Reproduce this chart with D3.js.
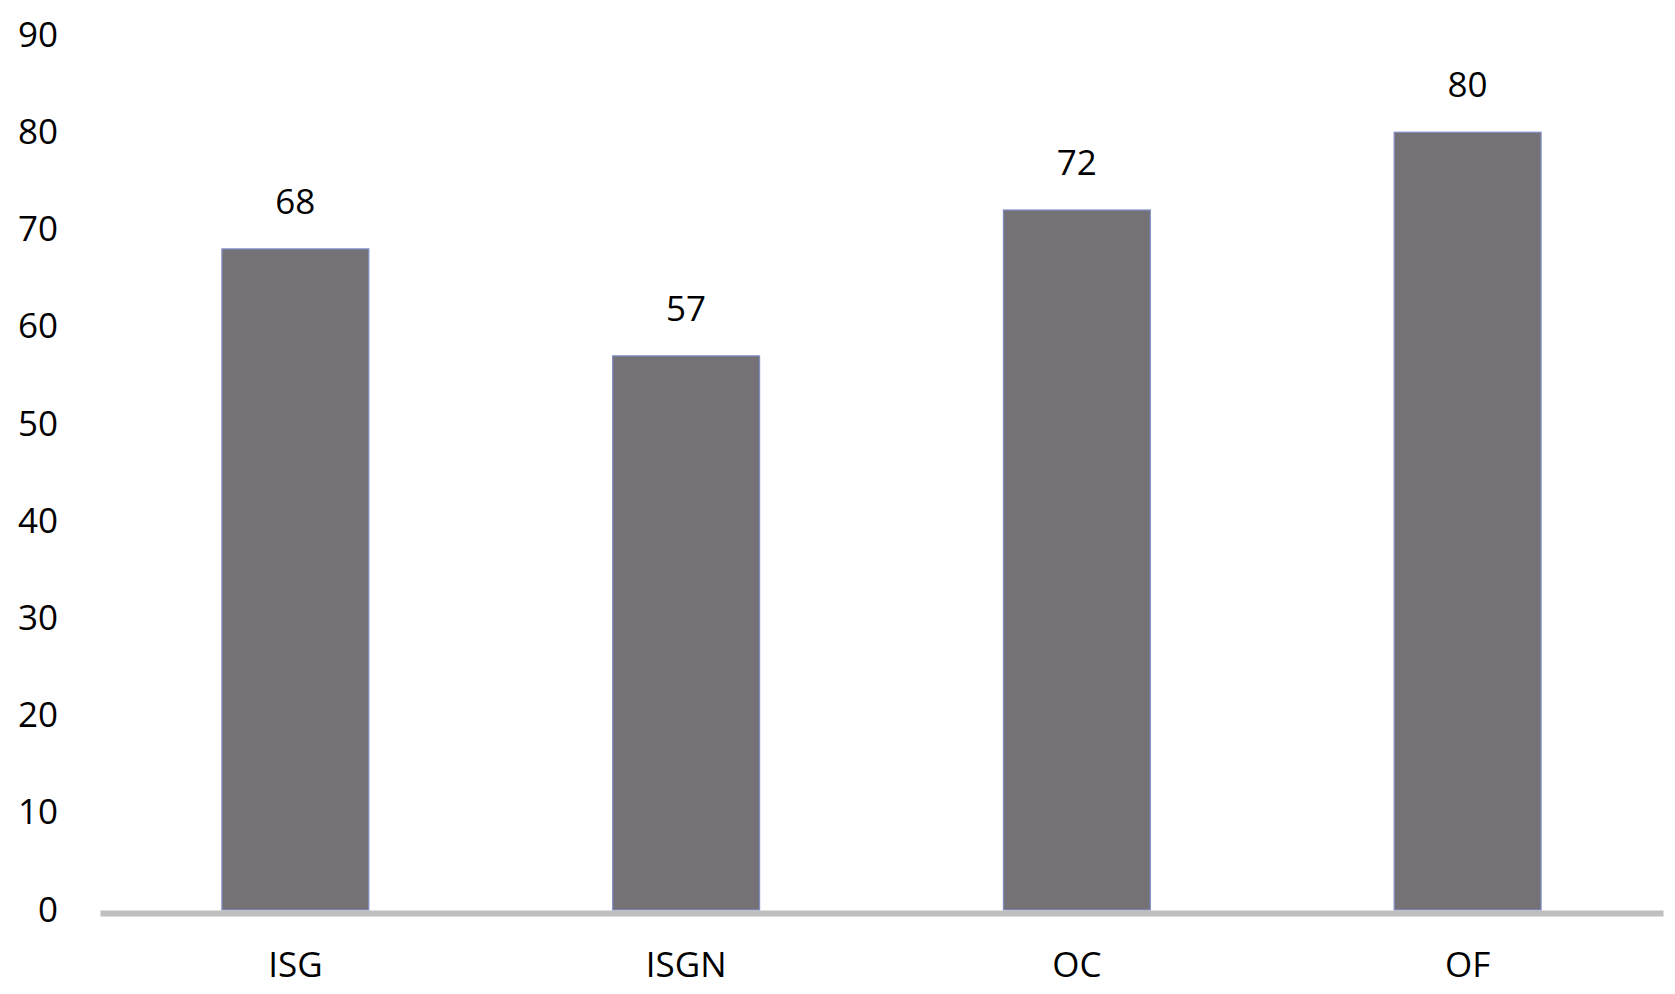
<!DOCTYPE html>
<html>
<head>
<meta charset="utf-8">
<script src="https://cdn.jsdelivr.net/npm/d3@7"></script>
<style>
  body { margin: 0; background: #fff; }
  svg text { font-family: 'Open Sans', sans-serif; fill: #000; }
</style>
</head>
<body>
<svg id="chart"></svg>
<script>
// DATA
const categories = ['ISG', 'ISGN', 'OC', 'OF'];
const values = [68, 57, 72, 80];
const yTicks = [0, 10, 20, 30, 40, 50, 60, 70, 80, 90];

//SETUP
const width = 1675;
const height = 994;
const svg = d3.select('#chart').attr('width', width).attr('height', height);

const padding = { top: 35, right: 12, bottom: 84, left: 100 };

//SCALE
const xScale = d3
  .scaleBand()
  .domain(categories)
  .range([padding.left, width - padding.right])
  .paddingInner(0.624)
  .paddingOuter(0.312);

const yScale = d3
  .scaleLinear()
  .domain([0, 90])
  .range([height - padding.bottom, padding.top]);

//BARS
svg
  .selectAll('.bar')
  .data(values)
  .enter()
  .append('rect')
  .classed('bar', true)
  .attr('x', (d, i) => xScale(categories[i]))
  .attr('y', (d) => yScale(d))
  .attr('width', xScale.bandwidth())
  .attr('height', (d) => yScale(0) - yScale(d))
  .attr('fill', '#747177')
  .attr('stroke', '#8290c8')
  .attr('stroke-width', 1.2);

//X AXIS
const xAxis = d3.axisBottom(xScale).tickSize(0).tickSizeOuter(0);
const gx = svg
  .append('g')
  .attr('transform', `translate(0,${yScale(0) + 3})`)
  .call(xAxis);
gx.select('.domain').attr('stroke', '#bfbfbf').attr('stroke-width', 6);
gx.selectAll('text')
  .attr('y', 52)
  .attr('dy', '0.35em')
  .style('font-size', '35px');

//Y AXIS
const yAxis = d3.axisLeft(yScale).tickValues(yTicks).tickSize(0).tickPadding(0);
const gy = svg
  .append('g')
  .attr('transform', 'translate(58,0)')
  .call(yAxis);
gy.select('.domain').remove();
gy.selectAll('text').style('font-size', '35px');

//LABELS
svg
  .selectAll('.value-label')
  .data(values)
  .enter()
  .append('text')
  .classed('value-label', true)
  .attr('x', (d, i) => xScale(categories[i]) + xScale.bandwidth() / 2)
  .attr('y', (d) => yScale(d) - 35)
  .style('text-anchor', 'middle')
  .style('font-size', '35px')
  .text((d) => d);
</script>
</body>
</html>
